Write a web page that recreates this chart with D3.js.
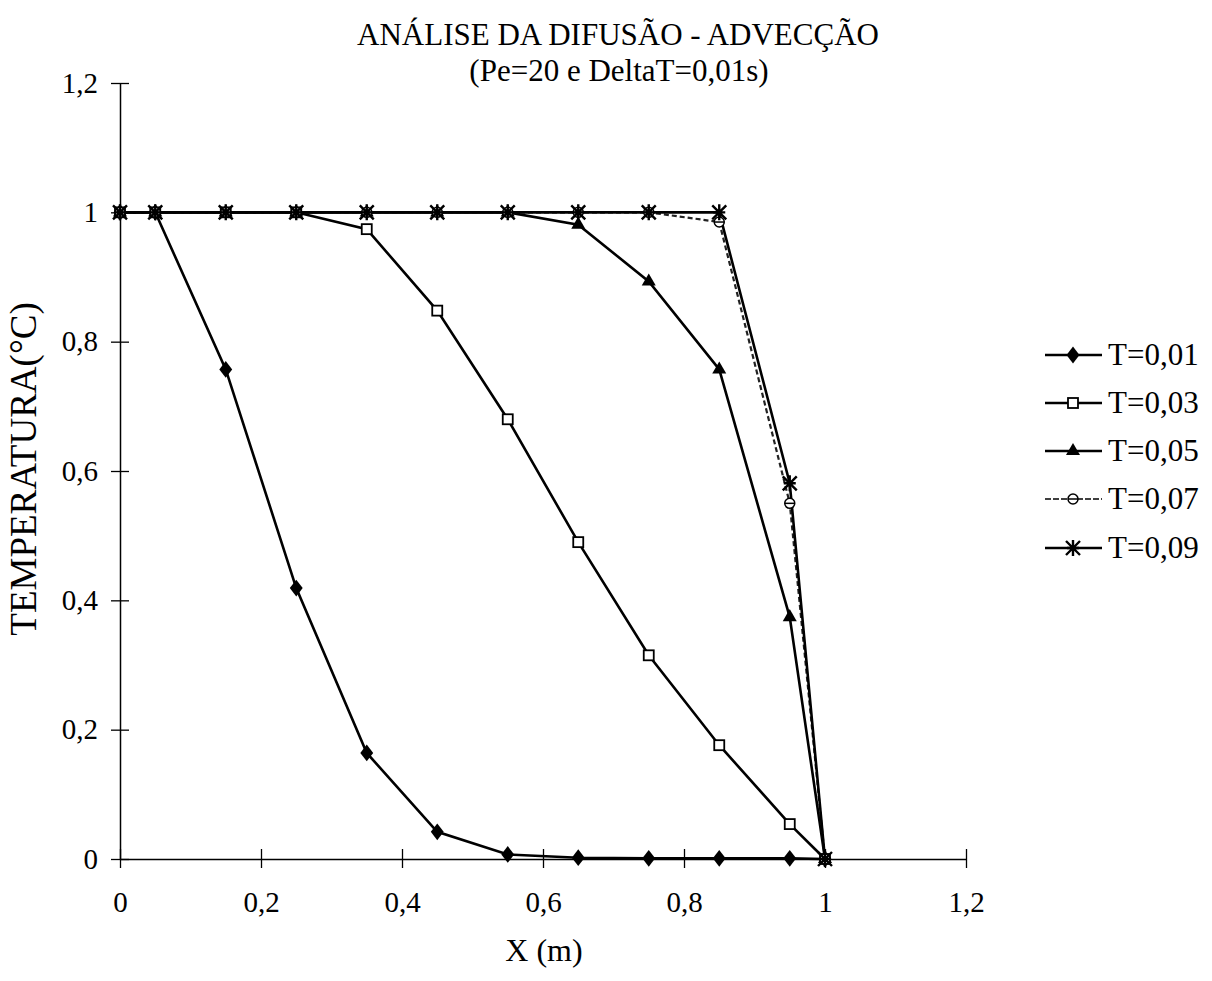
<!DOCTYPE html>
<html>
<head>
<meta charset="utf-8">
<script src="https://cdn.jsdelivr.net/npm/d3@7"></script>
<style>
  body { margin: 0; background: #fff; }
  text { font-family: "Liberation Serif", "Times New Roman", serif; fill: #000; }
</style>
</head>
<body>
<svg id="chart" width="1212" height="981"></svg>
<script>
// ---- data ----
const xValues = [0, 0.05, 0.15, 0.25, 0.35, 0.45, 0.55, 0.65, 0.75, 0.85, 0.95, 1.0];
const seriesNames = ["T=0,01", "T=0,03", "T=0,05", "T=0,07", "T=0,09"];
const t001 = [1, 1, 0.757, 0.419, 0.164, 0.042, 0.007, 0.002, 0.001, 0.001, 0.001, 0];
const t003 = [1, 1, 1, 1, 0.974, 0.848, 0.68, 0.49, 0.315, 0.176, 0.054, 0];
const t005 = [1, 1, 1, 1, 1, 1, 1, 0.981, 0.893, 0.757, 0.374, 0];
const t007 = [1, 1, 1, 1, 1, 1, 1, 1, 1, 0.985, 0.55, 0];
const t009 = [1, 1, 1, 1, 1, 1, 1, 1, 1, 1, 0.581, 0];
const xTicks = [0, 0.2, 0.4, 0.6, 0.8, 1, 1.2];
const yTicks = [0, 0.2, 0.4, 0.6, 0.8, 1, 1.2];
const titleLines = ["ANÁLISE DA DIFUSÃO - ADVECÇÃO", "(Pe=20 e DeltaT=0,01s)"];
const xLabel = "X (m)";
const yLabel = "TEMPERATURA(°C)";

const allSeries = [t001, t003, t005, t007, t009];
const markers = ["diamond", "square", "triangle", "circleline", "star"];

const svg = d3.select("#chart");
const x = d3.scaleLinear().domain([0, 1.2]).range([120, 966]);
const y = d3.scaleLinear().domain([0, 1.2]).range([859, 83]);
const fmt = d => (d === 0 || d === 1) ? String(d) : String(d).replace(".", ",");

// axes
const xAxis = svg.append("g").attr("transform", `translate(0,${y(0)})`)
  .call(d3.axisBottom(x).tickValues(xTicks).tickFormat(fmt).tickSize(0).tickPadding(32));
xAxis.select(".domain").attr("stroke", "#000").attr("stroke-width", 1.5);
xAxis.selectAll(".tick text").attr("font-size", 29).style("font-family", "Liberation Serif");
xAxis.selectAll(".tick").append("line").attr("y1", -10).attr("y2", 9).attr("stroke", "#000").attr("stroke-width", 1.3);

const yAxis = svg.append("g").attr("transform", `translate(${x(0)},0)`)
  .call(d3.axisLeft(y).tickValues(yTicks).tickFormat(fmt).tickSize(0).tickPadding(22));
yAxis.select(".domain").attr("stroke", "#000").attr("stroke-width", 1.5);
yAxis.selectAll(".tick text").attr("font-size", 29).style("font-family", "Liberation Serif");
yAxis.selectAll(".tick").append("line").attr("x1", -9).attr("x2", 9).attr("stroke", "#000").attr("stroke-width", 1.3);

// titles
svg.append("text").attr("x", 618).attr("y", 45).attr("text-anchor", "middle").attr("font-size", 31).text(titleLines[0]);
svg.append("text").attr("x", 619).attr("y", 81).attr("text-anchor", "middle").attr("font-size", 31).text(titleLines[1]);
svg.append("text").attr("x", 544).attr("y", 961).attr("text-anchor", "middle").attr("font-size", 32).text(xLabel);
svg.append("text").attr("transform", "translate(36,469) rotate(-90)").attr("text-anchor", "middle").attr("font-size", 37).text(yLabel);

// marker drawing
function drawMarker(g, type, cx, cy) {
  if (type === "diamond") {
    g.append("path").attr("d", d3.symbol(d3.symbolDiamond, 100)()).attr("transform", `translate(${cx},${cy}) scale(1.2,0.9)`).attr("fill", "#000");
  } else if (type === "square") {
    g.append("rect").attr("x", cx - 5).attr("y", cy - 5).attr("width", 10).attr("height", 10)
      .attr("fill", "#fff").attr("stroke", "#000").attr("stroke-width", 1.8);
  } else if (type === "triangle") {
    g.append("path").attr("d", d3.symbol(d3.symbolTriangle, 85)()).attr("transform", `translate(${cx},${cy})`).attr("fill", "#000");
  } else if (type === "circleline") {
    g.append("circle").attr("cx", cx).attr("cy", cy).attr("r", 5).attr("fill", "#fff").attr("stroke", "#000").attr("stroke-width", 1.5);
    g.append("line").attr("x1", cx - 5).attr("x2", cx + 5).attr("y1", cy).attr("y2", cy).attr("stroke", "#000").attr("stroke-width", 1.5);
  } else if (type === "star") {
    const s = 7;
    g.append("path").attr("d", `M${cx - s},${cy - s}L${cx + s},${cy + s}M${cx - s},${cy + s}L${cx + s},${cy - s}M${cx},${cy - s - 1}L${cx},${cy + s + 1}M${cx - s + 1},${cy}L${cx + s - 1},${cy}`)
      .attr("stroke", "#000").attr("stroke-width", 2.4).attr("fill", "none");
  }
}

const line = d3.line().x((d, i) => x(xValues[i])).y(d => y(d));
const plot = svg.append("g");
allSeries.forEach((vals, si) => {
  const dashed = si === 3;
  plot.append("path").datum(vals).attr("d", line).attr("fill", "none")
    .attr("stroke", dashed ? "#222" : "#000").attr("stroke-width", dashed ? 2.2 : 2.6)
    .attr("stroke-dasharray", dashed ? "5,3" : null);
});
allSeries.forEach((vals, si) => {
  const g = plot.append("g");
  vals.forEach((v, i) => drawMarker(g, markers[si], x(xValues[i]), y(v)));
});

// legend
const legend = svg.append("g");
const legendY = [355, 403, 451, 499, 548];
seriesNames.forEach((name, i) => {
  const ly = legendY[i];
  const dashed = i === 3;
  legend.append("line").attr("x1", 1045).attr("x2", 1102).attr("y1", ly).attr("y2", ly)
    .attr("stroke", "#000").attr("stroke-width", dashed ? 1.6 : 2.4).attr("stroke-dasharray", dashed ? "6,2" : null);
  drawMarker(legend, markers[i], 1073, ly);
  legend.append("text").attr("x", 1108).attr("y", ly + 10).attr("font-size", 31).text(name);
});
</script>
</body>
</html>
